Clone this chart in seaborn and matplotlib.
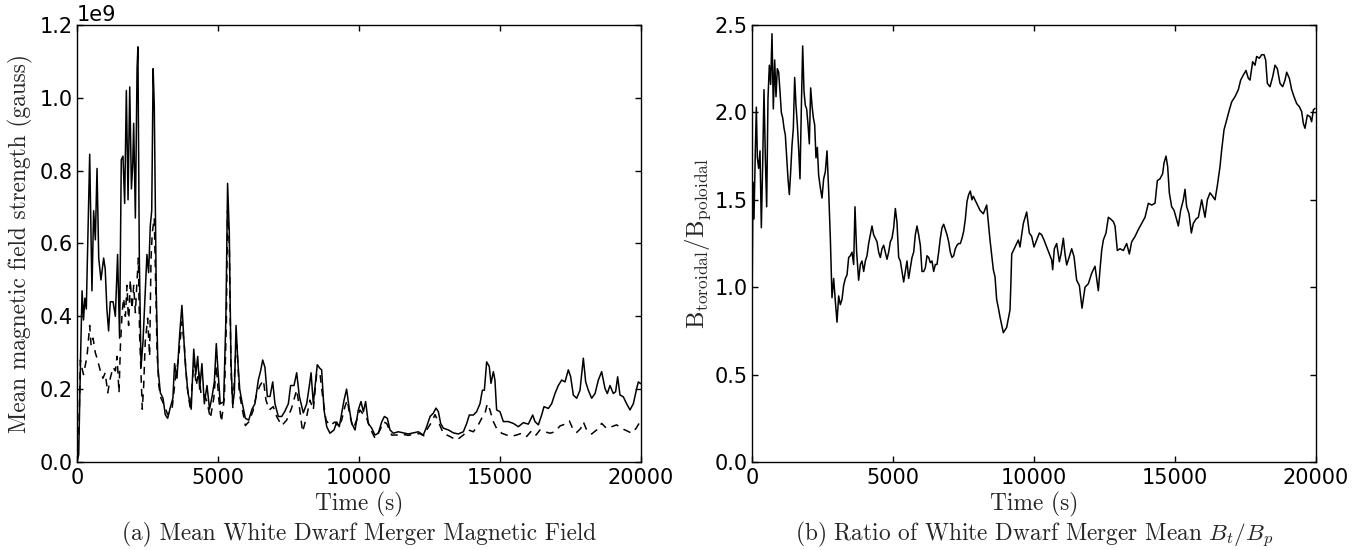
import numpy as np
import pandas as pd
import matplotlib
matplotlib.use("Agg")
import matplotlib.pyplot as plt
import seaborn as sns

# ---------------- data ----------------
# Panel (a): mean magnetic field strength, units of 1e9 gauss
t_solid = [0, 60, 130, 180, 230, 280, 330, 450, 530, 590, 650, 710, 770, 850, 945, 1000, 1060, 1120, 1180,
           1280, 1360, 1440, 1510, 1570, 1630, 1690, 1750, 1810, 1870, 1930, 1975, 2010, 2070, 2130, 2160,
           2210, 2270, 2340, 2420, 2480, 2540, 2600, 2650, 2700, 2740, 2810, 2870, 2955, 3050, 3130, 3215,
           3310, 3400, 3460, 3545, 3640, 3720, 3780, 3840, 3935, 4050, 4140, 4210, 4280, 4350, 4430, 4515,
           4610, 4700, 4790, 4870, 4940, 5000, 5080, 5200, 5280, 5340, 5400, 5460, 5520, 5580, 5640, 5700,
           5770, 5850, 5970, 6090, 6205, 6310, 6430, 6510, 6585, 6665, 6750, 6845, 6940, 7020, 7140, 7260,
           7375, 7495, 7575, 7695, 7790, 7885, 8025, 8145, 8240, 8300, 8380, 8465, 8520, 8615, 8675, 8760,
           8855, 8970, 9115, 9210, 9300, 9385, 9470, 9560, 9645, 9740, 9860, 9975, 10070, 10155, 10235,
           10330, 10450, 10565, 10685, 10805, 10900, 11005, 11100, 11215, 11395, 11570, 11750, 11925, 12105,
           12280, 12400, 12520, 12635, 12730, 12815, 12895, 12990, 13170, 13345, 13520, 13700, 13820, 13912,
           14055, 14170, 14290, 14374, 14445, 14527, 14620, 14680, 14765, 14820, 14880, 15000, 15118, 15295,
           15473, 15650, 15827, 16005, 16160, 16240, 16360, 16477, 16560, 16714, 16832, 16950, 17068, 17187,
           17305, 17423, 17506, 17600, 17718, 17837, 17955, 18038, 18132, 18250, 18370, 18487, 18605, 18723,
           18806, 18900, 19020, 19100, 19172, 19255, 19373, 19490, 19610, 19728, 19822, 19905, 19990]
b_solid = [0.0, 0.02, 0.30, 0.47, 0.39, 0.45, 0.42, 0.845, 0.47, 0.69, 0.61, 0.806, 0.56, 0.50, 0.56, 0.53, 0.42,
           0.36, 0.44, 0.44, 0.40, 0.57, 0.34, 0.83, 0.84, 0.71, 1.02, 0.72, 1.03, 0.75, 0.815, 0.93, 0.67,
           1.08, 1.14, 0.56, 0.26, 0.33, 0.47, 0.57, 0.52, 0.65, 0.69, 1.08, 0.98, 0.47, 0.26, 0.19, 0.175,
           0.13, 0.12, 0.15, 0.175, 0.27, 0.23, 0.35, 0.43, 0.35, 0.27, 0.19, 0.145, 0.31, 0.24, 0.29, 0.20,
           0.27, 0.16, 0.21, 0.145, 0.18, 0.22, 0.325, 0.25, 0.16, 0.165, 0.395, 0.765, 0.63, 0.275, 0.16,
           0.19, 0.375, 0.28, 0.20, 0.165, 0.12, 0.115, 0.145, 0.16, 0.225, 0.25, 0.28, 0.26, 0.18, 0.18,
           0.22, 0.16, 0.125, 0.125, 0.14, 0.16, 0.21, 0.21, 0.245, 0.18, 0.135, 0.16, 0.21, 0.245, 0.16,
           0.225, 0.267, 0.257, 0.253, 0.143, 0.097, 0.079, 0.088, 0.11, 0.097, 0.134, 0.17, 0.20, 0.152,
           0.106, 0.088, 0.143, 0.166, 0.138, 0.166, 0.106, 0.093, 0.074, 0.079, 0.11, 0.125, 0.12, 0.088,
           0.079, 0.083, 0.08, 0.077, 0.08, 0.083, 0.074, 0.097, 0.125, 0.134, 0.148, 0.138, 0.106, 0.093,
           0.088, 0.08, 0.077, 0.083, 0.106, 0.129, 0.129, 0.138, 0.16, 0.197, 0.197, 0.275, 0.262, 0.216,
           0.248, 0.225, 0.143, 0.138, 0.111, 0.111, 0.106, 0.097, 0.108, 0.104, 0.129, 0.111, 0.102, 0.129,
           0.152, 0.147, 0.16, 0.188, 0.21, 0.225, 0.22, 0.253, 0.234, 0.184, 0.175, 0.197, 0.285, 0.22,
           0.197, 0.175, 0.188, 0.225, 0.248, 0.202, 0.188, 0.21, 0.188, 0.193, 0.234, 0.184, 0.179, 0.16,
           0.143, 0.16, 0.193, 0.22, 0.215]

t_dashed = [0, 70, 120, 170, 230, 355, 450, 500, 570, 650, 710, 830, 920, 1000, 1090, 1180, 1280, 1360, 1420,
            1490, 1540, 1600, 1655, 1715, 1775, 1830, 1890, 1950, 2010, 2070, 2130, 2175, 2220, 2270, 2315,
            2365, 2420, 2505, 2575, 2625, 2670, 2740, 2790, 2840, 2900, 2980, 3100, 3215, 3370, 3490, 3600,
            3720, 3805, 3900, 4020, 4140, 4230, 4315, 4400, 4490, 4610, 4730, 4850, 4940, 5025, 5120, 5225,
            5295, 5340, 5400, 5460, 5530, 5615, 5675, 5755, 5875, 5970, 6090, 6240, 6380, 6490, 6610, 6700,
            6820, 6960, 7080, 7260, 7435, 7610, 7790, 7885, 8000, 8145, 8260, 8380, 8500, 8615, 8710, 8830,
            8970, 9150, 9270, 9385, 9500, 9585, 9680, 9800, 9920, 10035, 10155, 10250, 10390, 10570, 10745,
            10865, 10980, 11160, 11335, 11550, 11750, 11950, 12150, 12300, 12400, 12580, 12695, 12815, 12990,
            13225, 13460, 13700, 13877, 14055, 14232, 14350, 14468, 14550, 14645, 14740, 14880, 15060, 15236,
            15414, 15590, 15768, 15945, 16123, 16277, 16418, 16596, 16773, 16950, 17127, 17305, 17460, 17577,
            17718, 17860, 17955, 18073, 18250, 18427, 18605, 18782, 18960, 19137, 19314, 19490, 19668, 19822,
            19964]
b_dashed = [0.0, 0.10, 0.28, 0.26, 0.24, 0.29, 0.375, 0.32, 0.34, 0.30, 0.285, 0.25, 0.23, 0.245, 0.19, 0.23,
            0.26, 0.25, 0.29, 0.19, 0.32, 0.41, 0.45, 0.40, 0.485, 0.375, 0.50, 0.42, 0.485, 0.41, 0.50, 0.56,
            0.35, 0.24, 0.145, 0.21, 0.33, 0.395, 0.29, 0.56, 0.63, 0.67, 0.485, 0.30, 0.21, 0.175, 0.155,
            0.13, 0.145, 0.23, 0.285, 0.385, 0.32, 0.21, 0.145, 0.275, 0.21, 0.25, 0.185, 0.19, 0.165, 0.12,
            0.175, 0.265, 0.175, 0.11, 0.175, 0.375, 0.69, 0.60, 0.25, 0.145, 0.285, 0.32, 0.19, 0.14, 0.10,
            0.11, 0.14, 0.19, 0.21, 0.225, 0.17, 0.143, 0.152, 0.125, 0.10, 0.115, 0.148, 0.198, 0.152, 0.083,
            0.125, 0.17, 0.143, 0.244, 0.244, 0.18, 0.115, 0.10, 0.11, 0.097, 0.115, 0.152, 0.17, 0.125,
            0.093, 0.115, 0.143, 0.13, 0.125, 0.093, 0.065, 0.088, 0.11, 0.106, 0.074, 0.074, 0.076, 0.073,
            0.077, 0.078, 0.072, 0.088, 0.11, 0.13, 0.11, 0.079, 0.07, 0.06, 0.074, 0.088, 0.083, 0.102, 0.12,
            0.134, 0.16, 0.143, 0.115, 0.092, 0.079, 0.074, 0.071, 0.074, 0.079, 0.07, 0.086, 0.074, 0.088,
            0.083, 0.079, 0.083, 0.099, 0.104, 0.113, 0.092, 0.081, 0.092, 0.11, 0.088, 0.077, 0.088, 0.106,
            0.092, 0.097, 0.102, 0.092, 0.086, 0.079, 0.092, 0.11]

# Panel (b): ratio B_toroidal / B_poloidal
t_ratio = [0, 35, 70, 118, 154, 190, 236, 284, 331, 378, 425, 473, 520, 567, 615, 662, 709, 756, 804, 851, 898,
           946, 993, 1040, 1087, 1135, 1182, 1230, 1277, 1324, 1371, 1418, 1466, 1513, 1560, 1608, 1655, 1702,
           1749, 1797, 1844, 1891, 1938, 1986, 2033, 2080, 2128, 2175, 2222, 2269, 2317, 2364, 2423, 2482,
           2541, 2600, 2660, 2719, 2778, 2837, 2896, 2955, 3014, 3073, 3132, 3191, 3250, 3310, 3369, 3428,
           3487, 3546, 3605, 3652, 3711, 3782, 3842, 3901, 3960, 4019, 4078, 4137, 4196, 4255, 4314, 4373,
           4433, 4492, 4551, 4610, 4669, 4728, 4787, 4846, 4905, 4964, 5024, 5083, 5142, 5201, 5260, 5319,
           5378, 5437, 5496, 5555, 5614, 5674, 5733, 5792, 5851, 5910, 5969, 6028, 6087, 6146, 6206, 6265,
           6324, 6383, 6442, 6501, 6560, 6619, 6678, 6737, 6797, 6856, 6915, 6974, 7033, 7092, 7151, 7210,
           7269, 7328, 7388, 7447, 7506, 7565, 7624, 7683, 7742, 7801, 7848, 7966, 8085, 8203, 8322, 8440,
           8558, 8617, 8676, 8750, 8794, 8912, 9031, 9149, 9180, 9210, 9326, 9444, 9504, 9563, 9622, 9740,
           9835, 9918, 10000, 10095, 10190, 10272, 10355, 10450, 10544, 10627, 10662, 10721, 10804, 10899,
           10958, 11040, 11100, 11159, 11253, 11336, 11419, 11513, 11608, 11703, 11809, 11927, 12045, 12163,
           12281, 12340, 12400, 12459, 12553, 12636, 12719, 12814, 12873, 12955, 13050, 13168, 13286, 13381,
           13464, 13582, 13700, 13818, 13937, 14055, 14173, 14291, 14374, 14468, 14563, 14610, 14681, 14740,
           14799, 14882, 14965, 15036, 15119, 15201, 15296, 15355, 15414, 15497, 15580, 15650, 15745, 15828,
           15946, 16064, 16147, 16241, 16336, 16419, 16501, 16596, 16655, 16738, 16832, 16927, 17010, 17128,
           17246, 17329, 17423, 17518, 17600, 17660, 17754, 17837, 17896, 17991, 18074, 18156, 18215, 18275,
           18369, 18464, 18546, 18629, 18724, 18818, 18901, 18960, 19055, 19137, 19220, 19315, 19409, 19492,
           19551, 19610, 19693, 19787, 19846, 19905, 19964]
ratio = [0.88, 1.60, 1.39, 1.78, 2.03, 1.74, 1.68, 1.78, 1.34, 1.70, 2.13, 1.74, 1.46, 2.08, 2.27, 2.16, 2.45,
         2.02, 2.30, 2.09, 2.25, 2.23, 2.12, 2.00, 1.97, 1.91, 1.87, 1.74, 1.62, 1.53, 1.66, 1.81, 1.91, 2.20,
         2.04, 1.93, 1.79, 1.62, 2.02, 2.38, 2.12, 2.04, 2.02, 1.93, 1.82, 2.14, 2.04, 1.97, 1.93, 1.74, 1.80,
         1.64, 1.57, 1.51, 1.62, 1.66, 1.78, 1.55, 1.28, 0.94, 1.05, 0.92, 0.80, 0.95, 0.90, 0.93, 1.01, 1.05,
         1.07, 1.17, 1.18, 1.20, 1.13, 1.46, 1.20, 1.04, 1.13, 1.15, 1.09, 1.15, 1.18, 1.25, 1.30, 1.35, 1.30,
         1.28, 1.26, 1.20, 1.17, 1.22, 1.24, 1.20, 1.16, 1.20, 1.26, 1.28, 1.34, 1.45, 1.37, 1.17, 1.15, 1.09,
         1.03, 1.09, 1.15, 1.05, 1.11, 1.17, 1.20, 1.30, 1.35, 1.30, 1.24, 1.09, 1.09, 1.11, 1.18, 1.17, 1.14,
         1.15, 1.09, 1.13, 1.13, 1.20, 1.28, 1.34, 1.36, 1.33, 1.30, 1.26, 1.20, 1.17, 1.18, 1.22, 1.24, 1.25,
         1.25, 1.28, 1.32, 1.39, 1.49, 1.53, 1.55, 1.50, 1.52, 1.48, 1.44, 1.42, 1.47, 1.27, 1.10, 1.06, 0.93,
         0.87, 0.83, 0.74, 0.77, 0.87, 1.02, 1.19, 1.23, 1.27, 1.23, 1.30, 1.365, 1.43, 1.31, 1.29, 1.23, 1.27,
         1.31, 1.30, 1.27, 1.23, 1.19, 1.156, 1.10, 1.22, 1.25, 1.146, 1.19, 1.28, 1.19, 1.127, 1.175, 1.22,
         1.175, 1.04, 1.01, 0.88, 1.00, 1.02, 1.08, 1.12, 0.98, 1.10, 1.21, 1.27, 1.31, 1.40, 1.39, 1.375, 1.35,
         1.21, 1.22, 1.21, 1.25, 1.19, 1.26, 1.29, 1.33, 1.365, 1.40, 1.48, 1.47, 1.48, 1.61, 1.62, 1.65, 1.71,
         1.75, 1.69, 1.54, 1.46, 1.44, 1.40, 1.35, 1.44, 1.50, 1.56, 1.46, 1.42, 1.31, 1.365, 1.39, 1.40, 1.50,
         1.40, 1.50, 1.54, 1.52, 1.50, 1.58, 1.69, 1.785, 1.90, 1.957, 2.014, 2.06, 2.09, 2.13, 2.185, 2.214,
         2.24, 2.195, 2.185, 2.29, 2.27, 2.32, 2.31, 2.33, 2.33, 2.30, 2.166, 2.147, 2.204, 2.27, 2.25, 2.166,
         2.147, 2.185, 2.23, 2.195, 2.13, 2.09, 2.05, 2.033, 2.004, 1.937, 1.909, 1.985, 1.976, 1.947, 2.014,
         2.023]

x_ticks = [0, 5000, 10000, 15000, 20000]
y_ticks_a = [0.0, 0.2, 0.4, 0.6, 0.8, 1.0, 1.2]
y_ticks_b = [0.0, 0.5, 1.0, 1.5, 2.0, 2.5]

xlabel = "Time (s)"
ylabel_a = "Mean magnetic field strength (gauss)"
ylabel_b = r"$\mathrm{B_{toroidal}/B_{poloidal}}$"
caption_a = "(a) Mean White Dwarf Merger Magnetic Field"
caption_b = r"(b) Ratio of White Dwarf Merger Mean $B_t/B_p$"

# ---------------- styling ----------------
sns.set_style("ticks")
plt.rcParams.update({
    "font.family": ["DejaVu Sans"],
    "mathtext.fontset": "cm",
    "xtick.direction": "in", "ytick.direction": "in",
    "xtick.top": True, "ytick.right": True,
    "xtick.major.size": 4, "ytick.major.size": 4,
    "xtick.major.width": 1.0, "ytick.major.width": 1.0,
    "xtick.major.pad": 4, "ytick.major.pad": 3,
    "axes.linewidth": 1.0, "axes.edgecolor": "black",
    "xtick.color": "black", "ytick.color": "black",
    "xtick.labelsize": 15, "ytick.labelsize": 15,
    "axes.formatter.use_mathtext": False,
})

serif = "cmr10"
label_size = 16.8

fig = plt.figure(figsize=(13.69, 5.5), dpi=100)
ax1 = fig.add_axes([77 / 1369, 1 - 462 / 550, 564 / 1369, 437 / 550])
ax2 = fig.add_axes([752 / 1369, 1 - 462 / 550, 564 / 1369, 437 / 550])

# panel (a)
df_s = pd.DataFrame({"t": t_solid, "b": np.array(b_solid) * 1e9})
df_d = pd.DataFrame({"t": t_dashed, "b": np.array(b_dashed) * 1e9})
sns.lineplot(data=df_s, x="t", y="b", ax=ax1, color="black", lw=1.1, estimator=None, sort=False)
sns.lineplot(data=df_d, x="t", y="b", ax=ax1, color="black", lw=1.1, estimator=None, sort=False)
ax1.lines[-1].set_dashes((5, 4))
ax1.set_xlim(0, 20000)
ax1.set_ylim(0, 1.2e9)
ax1.set_xticks(x_ticks)
ax1.set_yticks([v * 1e9 for v in y_ticks_a])
ax1.ticklabel_format(axis="y", style="sci", scilimits=(0, 0), useMathText=False)
ax1.yaxis.get_offset_text().set_fontsize(15)
ax1.set_xlabel(xlabel, family=serif, fontsize=label_size, labelpad=3)
ax1.set_ylabel(ylabel_a, family=serif, fontsize=label_size, labelpad=5)

# panel (b)
df_r = pd.DataFrame({"t": t_ratio, "r": ratio})
sns.lineplot(data=df_r, x="t", y="r", ax=ax2, color="black", lw=1.1, estimator=None, sort=False)
ax2.set_xlim(0, 20000)
ax2.set_ylim(0, 2.5)
ax2.set_xticks(x_ticks)
ax2.set_yticks(y_ticks_b)
ax2.set_yticklabels([f"{v:.1f}" for v in y_ticks_b])
ax2.set_xlabel(xlabel, family=serif, fontsize=label_size, labelpad=3)
ax2.set_ylabel(ylabel_b, fontsize=label_size + 1, labelpad=1)

for ax in (ax1, ax2):
    for s in ax.spines.values():
        s.set_visible(True)
        s.set_color("black")

fig.text((77 + 641) / 2 / 1369, 1 - 534 / 550, caption_a, family=serif, fontsize=label_size,
         ha="center", va="center")
fig.text((752 + 1316) / 2 / 1369, 1 - 534 / 550, caption_b, family=serif, fontsize=label_size,
         ha="center", va="center")

fig.savefig("out.png", dpi=100)
